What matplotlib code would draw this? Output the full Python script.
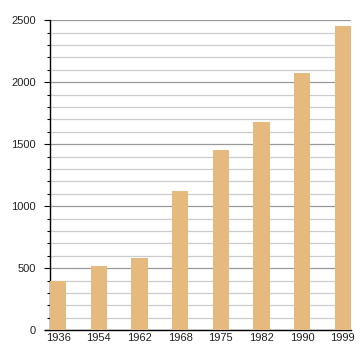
import matplotlib
matplotlib.use("Agg")
import matplotlib.pyplot as plt
from matplotlib.ticker import MultipleLocator

anios = ["1936", "1954", "1962", "1968", "1975", "1982", "1990", "1999"]
poblacion = [395, 516, 580, 1121, 1452, 1677, 2073, 2452]

plt.rcParams["font.family"] = ["Liberation Sans", "DejaVu Sans"]

fig = plt.figure(figsize=(3.6, 3.6), dpi=100)
ax = fig.add_axes([0.139, 0.083, 0.836, 0.861])

x = list(range(len(anios)))
ax.bar(x, poblacion, width=0.4, color="#e6b97e", zorder=3)

ax.set_xlim(-0.2, len(anios) - 0.8)
ax.set_ylim(0, 2500)
ax.yaxis.set_major_locator(MultipleLocator(500))
ax.yaxis.set_minor_locator(MultipleLocator(100))
ax.grid(which="major", axis="y", color="#999999", linewidth=0.9, zorder=1)
ax.grid(which="minor", axis="y", color="#cccccc", linewidth=0.9, zorder=1)

ax.set_xticks(x)
ax.set_xticklabels(anios)
ax.tick_params(axis="x", length=0, pad=2, labelsize=8, labelcolor="#222222")
ax.tick_params(axis="y", which="major", length=4, width=0.8, labelsize=8, pad=6,
               labelcolor="#222222")
ax.tick_params(axis="y", which="minor", length=2, width=0.8)

for lado in ["top", "right"]:
    ax.spines[lado].set_visible(False)
ax.spines["left"].set_linewidth(1)
ax.spines["bottom"].set_linewidth(1)
ax.spines["bottom"].set_bounds(-0.32, len(anios) - 0.8)

fig.savefig("out.png")
